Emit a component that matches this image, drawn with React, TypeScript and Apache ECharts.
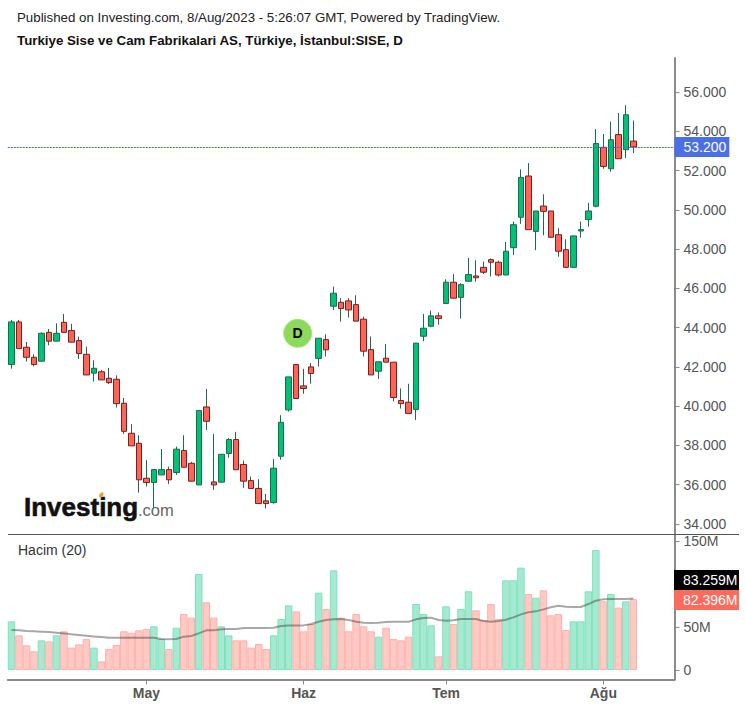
import React, { useEffect, useRef } from "react";
import * as echarts from "echarts";

const opens = [42.12,44.29,43.0,42.49,42.29,43.76,43.31,44.27,43.85,43.34,42.64,41.68,41.75,41.42,41.37,40.15,38.62,38.11,36.33,36.11,36.5,36.77,36.62,37.74,37.09,35.99,39.96,36.14,36.13,37.59,38.3,37.03,36.21,35.81,35.18,35.09,37.45,39.81,42.12,41.03,42.0,42.43,43.39,45.09,45.29,45.36,45.17,44.43,42.88,41.78,42.44,42.24,40.29,40.2,39.83,43.56,44.07,44.6,45.23,46.31,45.54,46.36,46.63,47.07,47.46,47.33,46.68,48.07,49.62,51.72,48.9,50.19,49.94,48.73,47.97,47.07,48.92,49.5,50.18,53.18,52.09,53.83,53.06,53.5];
const closes = [44.29,42.93,42.49,42.12,43.71,43.31,43.71,43.76,43.26,42.68,41.59,41.93,41.34,41.20,40.13,38.72,37.98,36.25,36.11,36.77,36.77,36.25,37.81,36.89,36.18,39.78,39.23,35.99,37.55,38.3,36.76,36.18,35.81,35.04,35.04,36.84,39.18,41.49,40.39,40.9,41.66,43.46,42.87,45.75,44.97,44.9,44.33,42.8,41.59,42.26,42.24,40.44,40.13,39.63,43.21,43.97,44.6,44.46,46.31,45.5,46.19,46.7,46.54,46.82,47.33,46.68,47.89,49.24,51.65,48.99,49.94,49.92,48.6,47.89,47.07,48.67,48.99,49.94,53.38,52.21,53.57,52.6,54.84,53.2];
const lows = [41.91,42.93,42.27,42.02,42.29,43.10,43.31,43.76,43.26,42.41,41.59,41.25,41.34,41.13,39.93,38.59,37.98,35.60,35.91,34.80,36.5,36.04,36.5,36.89,36.18,35.99,38.79,35.74,36.13,37.38,36.76,35.84,35.81,35.04,34.79,35.03,37.27,39.73,40.39,40.63,41.15,42.02,42.53,44.9,44.31,44.51,44.33,42.53,41.59,41.39,42.24,40.24,39.88,39.63,39.3,43.31,44.02,44.14,45.23,45.5,44.46,46.36,46.34,46.73,46.61,46.6,46.68,47.7,49.28,48.99,47.94,48.7,48.6,47.61,47.07,47.07,48.58,49.14,50.13,52.09,51.94,52.6,52.64,52.89];
const highs = [44.39,44.39,43.27,42.64,43.76,43.93,44.22,44.70,44.19,43.54,43.03,42.34,41.85,41.95,41.57,40.42,39.08,38.52,37.25,36.77,37.82,36.92,37.94,38.52,37.16,39.78,40.88,38.59,37.55,38.37,38.69,37.23,36.42,36.28,35.53,37.3,39.54,41.49,42.12,41.9,42.19,43.46,43.66,46.09,45.5,45.5,45.65,44.56,43.55,42.26,43.17,42.24,40.9,41.14,43.21,44.7,44.87,44.77,46.46,46.72,46.26,47.55,47.43,47.36,47.53,47.41,48.36,49.4,52.06,52.38,49.94,50.79,49.94,49.06,48.5,48.67,49.4,50.35,54.11,53.86,54.49,54.93,55.32,54.54];
const volumes = [56.6,40.3,28.7,21.7,34.5,33.3,40.3,45.0,26.0,29.8,36.0,26.0,10.1,24.4,29.1,45.0,43.4,46.1,47.7,50.8,36.0,24.4,49.2,65.1,60.9,111.6,78.7,60.9,50.8,40.3,34.5,34.5,26.0,30.2,24.4,40.3,59.3,75.2,68.2,45.0,53.5,89.9,70.9,115.9,60.9,45.0,65.1,50.8,45.0,38.8,49.2,36.0,34.5,38.8,76.7,65.1,51.9,15.9,74.0,53.5,70.9,91.5,69.4,58.1,76.7,59.3,104.3,104.3,119.0,88.4,84.1,92.6,63.6,65.1,46.5,56.6,56.6,91.5,139.5,79.8,88.4,72.5,79.8,82.4];
const volumeAverage = [46.5,46.1,45.3,45.0,44.6,44.2,43.4,42.6,41.5,40.7,39.9,39.1,38.4,37.6,37.6,37.6,37.6,37.6,37.6,37.6,36.0,35.7,36.0,38.8,39.5,42.6,46.1,46.1,47.3,47.7,47.7,48.8,48.8,48.8,48.8,49.2,51.2,51.9,51.9,51.9,53.5,56.2,58.1,58.9,59.3,58.1,56.2,55.0,54.7,55.0,55.8,56.2,56.2,56.2,58.9,60.5,60.9,58.1,57.4,57.8,59.3,59.3,59.3,57.0,56.2,57.0,58.5,61.2,64.7,67.1,68.2,70.5,72.9,74.8,73.6,73.3,73.3,76.7,80.6,82.2,82.6,82.6,82.6,83.26];
const monthTicks: Record<number, string> = { 18: "May", 39: "Haz", 58: "Tem", 79: "Ağu" };
const priceTicks = [34, 36, 38, 40, 42, 44, 46, 48, 50, 52, 54, 56];
const volumeTicks = [0, 50, 150];
const lastPrice = 53.2;
const emptyBands = 5;

const FONT = "Liberation Sans, Arial, sans-serif";
const AXIS = "#8a8a8a";
const TEXT = "#555555";
const UP = "#00c176";
const UP_EDGE = "#1c6b4f";
const DOWN = "#ff6457";
const DOWN_EDGE = "#7a1f1f";

const categories = Array.from({ length: opens.length + emptyBands }, (_, i) => String(i));

function sideLabel(y: number, fill: string, text: string) {
  return {
    type: "group",
    z: 100,
    children: [
      { type: "rect", z: 100, shape: { x: 674, y, width: 65, height: 20 }, style: { fill } },
      { type: "text", z: 101, style: { x: 683, y: y + 10, text, fill: "#ffffff", font: `14px ${FONT}`, textVerticalAlign: "middle" } },
    ],
  };
}

function buildOption() {
  const wicks = opens.map((o, i) => [o, closes[i], lows[i], highs[i]]);
  const bodies = opens.map((o, i) => [o, closes[i], Math.min(o, closes[i]), Math.max(o, closes[i])]);
  const bars = volumes.map((v, i) => {
    const up = closes[i] >= opens[i];
    return {
      value: v,
      itemStyle: { color: up ? "#a5ead0" : "#ffc9c4", borderColor: up ? "#7ee2bd" : "#ffb0aa", borderWidth: 1 },
    };
  });
  const valueAxisCommon = {
    type: "value",
    position: "right",
    scale: false,
    splitLine: { show: false },
    axisLine: { show: true, onZero: false, lineStyle: { color: AXIS, width: 2 } },
  };
  return {
    animation: false,
    backgroundColor: "#ffffff",
    title: [
      {
        text: "Published on Investing.com, 8/Aug/2023 - 5:26:07 GMT, Powered by TradingView.",
        left: 12,
        top: 6,
        textStyle: { fontFamily: FONT, fontSize: 13.3, fontWeight: "normal", color: "#222222" },
      },
      {
        text: "Turkiye Sise ve Cam Fabrikalari AS, Türkiye, İstanbul:SISE, D",
        left: 12,
        top: 29,
        textStyle: { fontFamily: FONT, fontSize: 13.3, fontWeight: "bold", color: "#111111" },
      },
    ],
    grid: [
      { left: 7.75, width: 666.75, top: 58, height: 476 },
      { left: 7.75, width: 666.75, top: 534, height: 145.5 },
    ],
    xAxis: [
      {
        type: "category",
        gridIndex: 0,
        data: categories,
        axisLine: { show: false },
        axisTick: { show: false },
        axisLabel: { show: false },
      },
      {
        type: "category",
        gridIndex: 1,
        data: categories,
        axisLine: { show: true, onZero: false, lineStyle: { color: AXIS, width: 2 } },
        axisTick: {
          show: true,
          alignWithLabel: true,
          length: 5,
          lineStyle: { color: AXIS },
          interval: (i: number) => monthTicks[i] !== undefined,
        },
        axisLabel: {
          show: true,
          hideOverlap: false,
          interval: (i: number) => monthTicks[i] !== undefined,
          formatter: (_: string, i: number) => monthTicks[i] ?? "",
          fontFamily: FONT,
          fontSize: 14,
          fontWeight: "bold",
          color: TEXT,
          margin: 6,
        },
      },
    ],
    yAxis: [
      {
        ...valueAxisCommon,
        gridIndex: 0,
        min: 33.49,
        max: 57.73,
        axisTick: { show: true, length: 5, lineStyle: { color: AXIS }, customValues: priceTicks },
        axisLabel: {
          show: true,
          customValues: priceTicks,
          formatter: (v: number) => v.toFixed(3),
          fontFamily: FONT,
          fontSize: 14,
          color: TEXT,
          margin: 9,
        },
      },
      {
        ...valueAxisCommon,
        gridIndex: 1,
        min: -11,
        max: 158.1,
        axisTick: { show: true, length: 5, lineStyle: { color: AXIS }, customValues: volumeTicks },
        axisLabel: {
          show: true,
          customValues: volumeTicks,
          formatter: (v: number) => (v === 0 ? "0" : `${v}M`),
          fontFamily: FONT,
          fontSize: 14,
          color: TEXT,
          margin: 9,
        },
      },
    ],
    series: [
      {
        name: "Son fiyat",
        type: "line",
        xAxisIndex: 0,
        yAxisIndex: 0,
        data: [],
        z: 4,
        color: "#4a64e8",
        markLine: {
          silent: true,
          symbol: "none",
          animation: false,
          lineStyle: { color: "#4a64e8", width: 1, type: [2, 1], opacity: 1 },
          label: {
            show: true,
            position: "end",
            distance: 0,
            formatter: lastPrice.toFixed(3),
            fontFamily: FONT,
            fontSize: 14,
            color: "#ffffff",
            backgroundColor: "#4a6fe8",
            padding: [3, 3, 3, 9],
          },
          data: [{ yAxis: lastPrice }],
        },
      },
      {
        name: "Wicks",
        type: "candlestick",
        xAxisIndex: 0,
        yAxisIndex: 0,
        data: wicks,
        barWidth: 1,
        z: 2,
        itemStyle: { color: UP_EDGE, color0: UP_EDGE, borderColor: UP_EDGE, borderColor0: UP_EDGE, borderWidth: 1 },
        markPoint: {
          silent: true,
          animation: false,
          symbol: "circle",
          symbolSize: 28,
          symbolOffset: [1.5, 0],
          itemStyle: { color: "#8dd95c", borderColor: "#a6e27f", borderWidth: 1 },
          label: { show: true, formatter: "D", fontFamily: FONT, fontSize: 14, fontWeight: "bold", color: "#000000" },
          data: [{ coord: ["38", 43.71] }],
        },
      },
      {
        name: "Bodies",
        type: "candlestick",
        xAxisIndex: 0,
        yAxisIndex: 0,
        data: bodies,
        barWidth: 6,
        z: 3,
        itemStyle: { color: UP, color0: DOWN, borderColor: UP_EDGE, borderColor0: DOWN_EDGE, borderWidth: 1 },
      },
      {
        name: "Hacim",
        type: "bar",
        xAxisIndex: 1,
        yAxisIndex: 1,
        data: bars,
        barWidth: "100%",
        z: 2,
      },
      {
        name: "Hacim (20)",
        type: "line",
        xAxisIndex: 1,
        yAxisIndex: 1,
        data: volumeAverage,
        showSymbol: false,
        symbol: "none",
        z: 3,
        lineStyle: { color: "rgba(60,60,60,0.45)", width: 2 },
      },
    ],
    graphic: [
      { type: "line", z: 90, shape: { x1: 8, y1: 534.5, x2: 739, y2: 534.5 }, style: { stroke: "#555555", lineWidth: 1 } },
      { type: "text", z: 90, style: { x: 18, y: 550, text: "Hacim (20)", fill: "#333333", font: `14px ${FONT}`, textVerticalAlign: "middle" } },
      sideLabel(570, "#000000", "83.259M"),
      sideLabel(590, "#ff6a5f", "82.396M"),
      { type: "text", z: 90, style: { x: 24, y: 520, text: "Investing", fill: "#111111", stroke: "#111111", lineWidth: 0.6, font: `bold 26px ${FONT}`, textVerticalAlign: "bottom" } },
      { type: "text", z: 90, style: { x: 138, y: 518, text: ".com", fill: "#666666", font: `16.5px ${FONT}`, textVerticalAlign: "bottom" } },
      { type: "ellipse", z: 91, shape: { cx: 101.5, cy: 495, rx: 1.8, ry: 3 }, rotation: -0.6, originX: 101.5, originY: 495, style: { fill: "#f7a11d" } },
    ],
  };
}

export default function App() {
  const ref = useRef<HTMLDivElement>(null);
  useEffect(() => {
    if (!ref.current) return;
    const chart = echarts.init(ref.current, undefined, { renderer: "svg" });
    chart.setOption(buildOption() as any);
    return () => chart.dispose();
  }, []);
  return <div ref={ref} style={{ position: "absolute", left: 0, top: 0, width: 746, height: 707, background: "#ffffff" }} />;
}
